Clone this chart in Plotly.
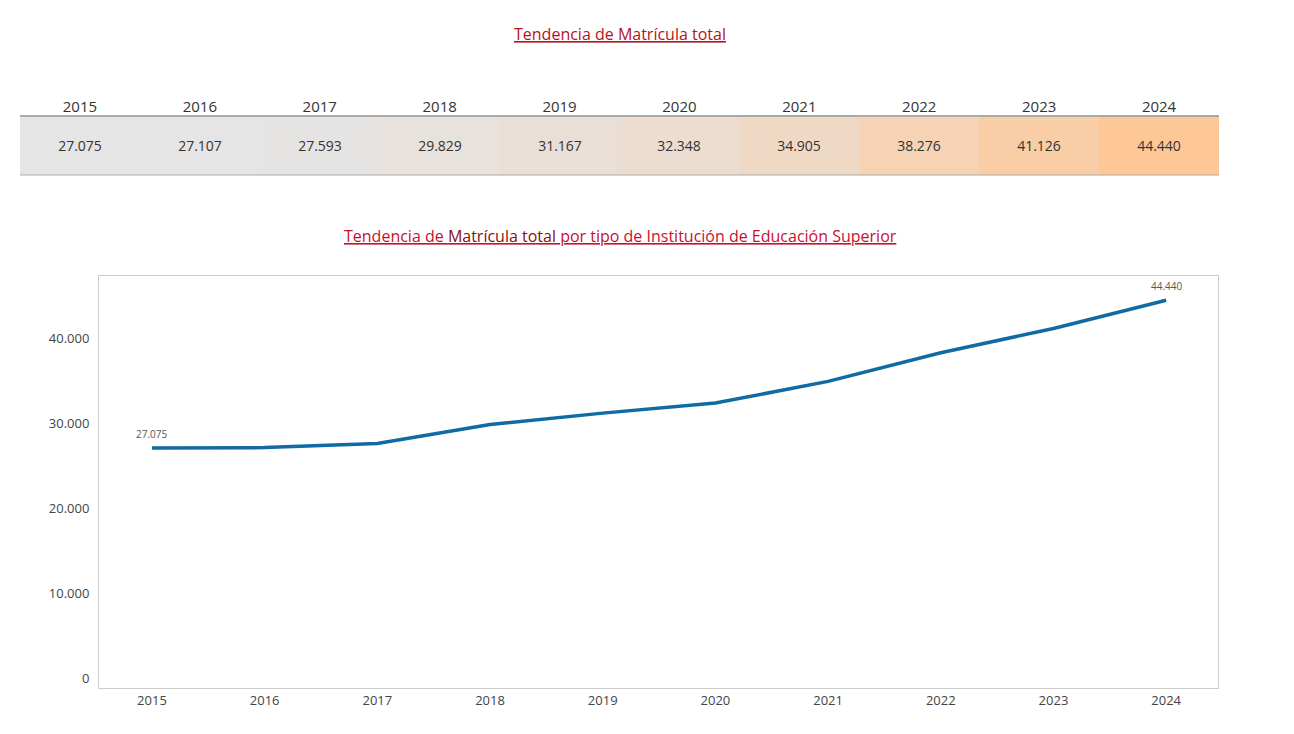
import plotly.graph_objects as go

years = [2015, 2016, 2017, 2018, 2019, 2020, 2021, 2022, 2023, 2024]
matricula = [27075, 27107, 27593, 29829, 31167, 32348, 34905, 38276, 41126, 44440]
y_ticks = [0, 10000, 20000, 30000, 40000]

W, H = 1294, 734
# page puts the figure at an 8px offset, so shift pixel positions accordingly
def px(x): return (x - 8) / W
def py(y): return 1 - (y - 8) / H

def fmt(v):
    return f"{v:,}".replace(",", ".")

fig = go.Figure()

# highlight table (heatmap strip)
fig.add_trace(go.Heatmap(
    x=[str(y) for y in years], y=["t"], z=[matricula],
    colorscale=[[0, "#e5e5e5"], [0.15, "#e8e2dd"], [1, "#fec896"]],
    zmin=27075, zmax=44440, showscale=False, xgap=0, ygap=0,
    texttemplate="%{z:,d}", textfont=dict(size=14, color="#333333"),
    xaxis="x2", yaxis="y2", hoverinfo="skip",
))

# line chart
fig.add_trace(go.Scatter(
    x=years, y=matricula, mode="lines",
    line=dict(color="#0f6ba3", width=3.5),
    showlegend=False,
))

labels = [
    dict(x=years[i], y=matricula[i], text=fmt(matricula[i]), xref="x", yref="y",
         showarrow=False, yshift=14, font=dict(size=10, color="#555555"))
    for i in (0, len(years) - 1)
]

fig.update_layout(
    width=W, height=H, margin=dict(l=0, r=0, t=0, b=0),
    paper_bgcolor="white", plot_bgcolor="white", separators=",.",
    font=dict(family="Open Sans, DejaVu Sans", color="#444444"),
    xaxis=dict(domain=[px(99), px(1218)], range=[2014.53, 2024.46],
               tickvals=years, ticktext=[str(y) for y in years],
               showgrid=False, zeroline=False, showline=True, mirror=True,
               linecolor="#cccccc", tickfont=dict(size=13, color="#444444")),
    yaxis=dict(domain=[py(688), py(276)], range=[-1176, 47300],
               tickvals=y_ticks, tickformat=",d",
               showgrid=False, zeroline=False, showline=True, mirror=True,
               linecolor="#cccccc", tickfont=dict(size=13, color="#444444"),
               ticks="outside", ticklen=6, tickcolor="white"),
    xaxis2=dict(domain=[px(20), px(1219)], anchor="y2", side="top",
                showgrid=False, zeroline=False, showline=False, ticks="",
                tickfont=dict(size=15, color="#333333")),
    yaxis2=dict(domain=[py(175), py(116)], anchor="x2", showticklabels=False,
                showgrid=False, zeroline=False),
    shapes=[
        dict(type="line", xref="paper", yref="paper", x0=px(20), x1=px(1219), y0=py(116), y1=py(116),
             line=dict(color="#aaaaaa", width=2)),
        dict(type="line", xref="paper", yref="paper", x0=px(20), x1=px(1219), y0=py(175), y1=py(175),
             line=dict(color="#aaaaaa", width=1)),
    ],
    annotations=labels + [
        dict(text="<u>Tendencia de Matrícula total</u>", xref="paper", yref="paper",
             x=px(620), y=py(21), showarrow=False,
             font=dict(family="Liberation Sans Narrow, Open Sans", size=16, color="#b5121b")),
        dict(text="<u>Tendencia de <span style='color:#8b0d14'>Matrícula total</span> por tipo de Institución de Educación Superior</u>",
             xref="paper", yref="paper", x=px(620), y=py(223), showarrow=False,
             font=dict(family="Liberation Sans Narrow, Open Sans", size=16, color="#c8102e")),
    ],
)

fig.write_html("out.html")
